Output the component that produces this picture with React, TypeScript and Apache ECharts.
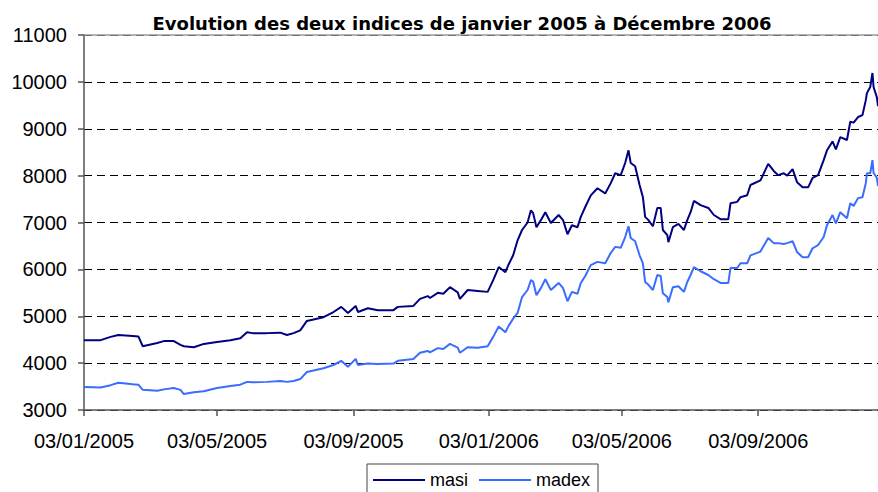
import React, { useEffect, useRef } from "react";
import * as echarts from "echarts";

const chartTitle = "Evolution des deux indices de janvier 2005 à Décembre 2006";
const seriesNames = ["masi", "madex"];

const dates = [
  "2005-01-03", "2005-01-18", "2005-01-27", "2005-02-03", "2005-02-16", "2005-02-21", "2005-02-25",
  "2005-03-10", "2005-03-16", "2005-03-25", "2005-03-31", "2005-04-03", "2005-04-12", "2005-04-21",
  "2005-05-03", "2005-05-15", "2005-05-24", "2005-05-30", "2005-06-04", "2005-06-17", "2005-06-29",
  "2005-07-05", "2005-07-11", "2005-07-17", "2005-07-23", "2005-08-07", "2005-08-16", "2005-08-23",
  "2005-08-29", "2005-09-05", "2005-09-07", "2005-09-16", "2005-09-25", "2005-10-09", "2005-10-13",
  "2005-10-27", "2005-11-02", "2005-11-09", "2005-11-11", "2005-11-18", "2005-11-23", "2005-11-29",
  "2005-12-06", "2005-12-08", "2005-12-15", "2005-12-24", "2006-01-02", "2006-01-07", "2006-01-12",
  "2006-01-18", "2006-01-21", "2006-01-25", "2006-01-29", "2006-02-02", "2006-02-07", "2006-02-10",
  "2006-02-12", "2006-02-15", "2006-02-19", "2006-02-23", "2006-02-28", "2006-03-07", "2006-03-11",
  "2006-03-15", "2006-03-19", "2006-03-24", "2006-03-27", "2006-03-31", "2006-04-05", "2006-04-11",
  "2006-04-18", "2006-04-23", "2006-04-27", "2006-05-02", "2006-05-06", "2006-05-09", "2006-05-11",
  "2006-05-15", "2006-05-19", "2006-05-22", "2006-05-24", "2006-05-27", "2006-05-31", "2006-06-04",
  "2006-06-07", "2006-06-09", "2006-06-13", "2006-06-14", "2006-06-18", "2006-06-23", "2006-06-28",
  "2006-07-01", "2006-07-04", "2006-07-07", "2006-07-13", "2006-07-20", "2006-07-25", "2006-07-31",
  "2006-08-07", "2006-08-09", "2006-08-15", "2006-08-18", "2006-08-24", "2006-08-27", "2006-09-05",
  "2006-09-12", "2006-09-17", "2006-09-21", "2006-09-26", "2006-09-29", "2006-10-04", "2006-10-08",
  "2006-10-13", "2006-10-18", "2006-10-22", "2006-10-27", "2006-11-01", "2006-11-04", "2006-11-09",
  "2006-11-12", "2006-11-16", "2006-11-22", "2006-11-25", "2006-11-28", "2006-12-02", "2006-12-06",
  "2006-12-09", "2006-12-10", "2006-12-13", "2006-12-15", "2006-12-16", "2006-12-19", "2006-12-20",
];

const masiValues = [
  4490, 4490, 4560, 4600, 4580, 4570, 4360,
  4430, 4470, 4470, 4390, 4360, 4340, 4410,
  4450, 4490, 4530, 4660, 4640, 4640, 4650,
  4600, 4640, 4700, 4900, 4980, 5090, 5200,
  5070, 5220, 5090, 5170, 5130, 5130, 5200,
  5220, 5370, 5430, 5390, 5500, 5480, 5620,
  5510, 5370, 5560, 5540, 5520, 5770, 6050,
  5940, 6110, 6300, 6620, 6840, 7000, 7260,
  7200, 6900, 7050, 7220, 6990, 7160, 7050,
  6750, 6940, 6900, 7120, 7330, 7580, 7730,
  7620, 7840, 8050, 8010, 8270, 8540, 8270,
  8200, 7800, 7540, 7120, 7050, 6920, 7310,
  7310, 6840, 6730, 6580, 6900, 6970, 6840,
  7050, 7220, 7460, 7370, 7310, 7160, 7070,
  7070, 7410, 7440, 7540, 7580, 7800, 7900,
  8250, 8100, 8010, 8050, 8000, 8140, 7860,
  7750, 7750, 7950, 8010, 8330, 8540, 8730,
  8560, 8820, 8760, 9150, 9130, 9250, 9290,
  9610, 9760, 9890, 10190, 9890, 9670, 9480,
];

const madexValues = [
  3490, 3480, 3530, 3580, 3550, 3540, 3430,
  3410, 3440, 3470, 3430, 3340, 3380, 3400,
  3470, 3510, 3540, 3600, 3590, 3600, 3620,
  3600, 3620, 3660, 3810, 3890, 3960, 4050,
  3920, 4090, 3960, 3990, 3980, 3990, 4050,
  4090, 4220, 4260, 4230, 4320, 4300, 4410,
  4330, 4220, 4340, 4330, 4360, 4560, 4780,
  4660, 4800, 4950, 5070, 5410, 5560, 5770,
  5740, 5450, 5600, 5790, 5560, 5710, 5600,
  5320, 5520, 5480, 5710, 5860, 6090, 6160,
  6130, 6350, 6480, 6460, 6690, 6920, 6670,
  6600, 6300, 6130, 5730, 5670, 5560, 5880,
  5860, 5490, 5410, 5300, 5620, 5640, 5520,
  5730, 5880, 6050, 5960, 5880, 5790, 5710,
  5710, 6030, 6030, 6130, 6130, 6300, 6380,
  6670, 6560, 6560, 6540, 6560, 6600, 6370,
  6260, 6260, 6450, 6520, 6690, 6940, 7160,
  6980, 7220, 7090, 7410, 7350, 7520, 7540,
  7840, 8050, 8050, 8330, 8060, 7950, 7780,
];

const xTickDates = ["2005-01-03", "2005-05-03", "2005-09-03", "2006-01-03", "2006-05-03", "2006-09-03"];
const xRange = ["2005-01-03", "2006-12-20"];
const yMin = 3000;
const yMax = 11000;
const yStep = 1000;

const DAY = 86400000;
const utc = (s: string) => {
  const [y, m, d] = s.split("-").map(Number);
  return Date.UTC(y, m - 1, d);
};
const origin = utc(xRange[0]);
const dayOf = (s: string) => Math.round((utc(s) - origin) / DAY);
const pad = (n: number) => (n < 10 ? "0" + n : "" + n);
const fmt = (v: number) => {
  const d = new Date(origin + Math.round(v) * DAY);
  return pad(d.getUTCDate()) + "/" + pad(d.getUTCMonth() + 1) + "/" + d.getUTCFullYear();
};

const FONT = "'Liberation Sans', Arial, Helvetica, sans-serif";
const TITLE_FONT = "'DejaVu Sans', 'Liberation Sans', Arial, sans-serif";

export default function App() {
  const ref = useRef<HTMLDivElement>(null);
  useEffect(() => {
    if (!ref.current) return;
    const chart = echarts.init(ref.current, null, { renderer: "svg" });
    const tickDays = xTickDates.map(dayOf);
    chart.setOption({
      animation: false,
      backgroundColor: "#ffffff",
      title: {
        text: chartTitle,
        left: 457,
        textAlign: "center",
        top: 9,
        textStyle: { fontFamily: TITLE_FONT, fontSize: 18, fontWeight: "bold", color: "#000" },
      },
      legend: {
        left: 367,
        top: 464,
        orient: "horizontal",
        icon: "rect",
        padding: [6, 8, 6, 6],
        itemGap: 11,
        itemWidth: 52,
        itemHeight: 2,
        borderColor: "#444",
        borderWidth: 1,
        textStyle: { fontFamily: FONT, fontSize: 18, color: "#000", lineHeight: 20 },
        data: seriesNames,
      },
      grid: { left: 84, top: 35, right: 0, bottom: 82, containLabel: false },
      xAxis: [
        {
          type: "value",
          min: 0,
          max: dayOf(xRange[1]),
          axisLine: { show: true, lineStyle: { color: "#555", width: 1.5 } },
          axisTick: { show: true, length: 6, lineStyle: { color: "#555", width: 1.5 }, customValues: tickDays },
          axisLabel: {
            customValues: tickDays,
            formatter: (v: number) => fmt(v),
            fontFamily: FONT,
            fontSize: 20,
            color: "#000",
            margin: 21,
            showMinLabel: true,
          },
          splitLine: { show: false },
        },
        {
          type: "value",
          position: "top",
          min: 0,
          max: 1,
          axisLine: { show: true, lineStyle: { color: "#999", width: 1.5 } },
          axisTick: { show: false },
          axisLabel: { show: false },
          splitLine: { show: false },
        },
      ],
      yAxis: {
        type: "value",
        min: yMin,
        max: yMax,
        interval: yStep,
        axisLine: { show: true, lineStyle: { color: "#555", width: 1.5 } },
        axisTick: { show: true, length: 6, lineStyle: { color: "#555", width: 1.5 } },
        axisLabel: {
          fontFamily: FONT,
          fontSize: 20,
          color: "#000",
          margin: 17,
          formatter: (v: number) => String(v),
        },
        splitLine: { show: true, lineStyle: { color: "#000", width: 1, type: [8, 5] } },
      },
      series: [
        {
          name: seriesNames[0],
          type: "line",
          xAxisIndex: 0,
          showSymbol: false,
          symbol: "none",
          data: dates.map((d, i) => [dayOf(d), masiValues[i]]),
          lineStyle: { color: "#000080", width: 2 },
          itemStyle: { color: "#000080" },
          z: 3,
        },
        {
          name: seriesNames[1],
          type: "line",
          xAxisIndex: 0,
          showSymbol: false,
          symbol: "none",
          data: dates.map((d, i) => [dayOf(d), madexValues[i]]),
          lineStyle: { color: "#3a6cff", width: 2 },
          itemStyle: { color: "#3a6cff" },
          z: 2,
        },
      ],
    });
    return () => chart.dispose();
  }, []);
  return (
    <div
      ref={ref}
      style={{ position: "fixed", left: 0, top: 0, width: 878, height: 492, background: "#fff" }}
    />
  );
}
